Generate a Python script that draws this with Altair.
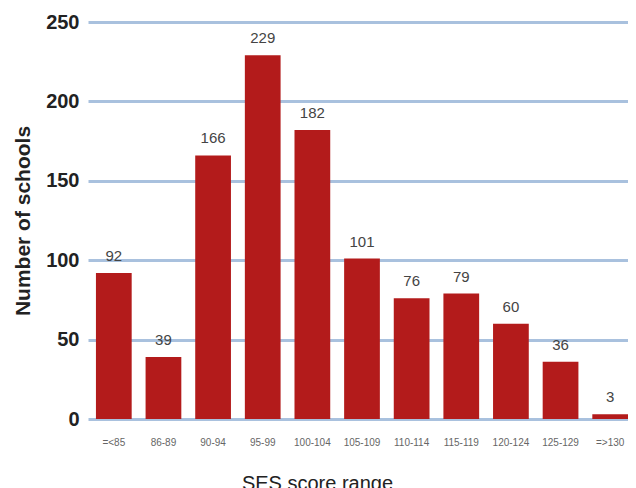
import altair as alt
import pandas as pd

categories = ["=<85", "86-89", "90-94", "95-99", "100-104", "105-109", "110-114",
              "115-119", "120-124", "125-129", "=>130"]
counts = [92, 39, 166, 229, 182, 101, 76, 79, 60, 36, 3]

df = pd.DataFrame({"range": categories, "count": counts})

font = "Liberation Sans"

base = alt.Chart(df).encode(
    x=alt.X("range:N", sort=categories, title="SES score range",
            scale=alt.Scale(paddingInner=0.28, paddingOuter=0.16),
            axis=alt.Axis(labelAngle=0, labelFontSize=10, labelColor="#666666",
                          labelPadding=18, ticks=False, domain=False,
                          titleFontSize=20, titleFontWeight="normal", titleColor="#222222",
                          titleX=229, titleY=70, titleBaseline="alphabetic",
                          titleAlign="center",
                          labelFont=font, titleFont=font)),
    y=alt.Y("count:Q", title="Number of schools",
            scale=alt.Scale(domain=[0, 250], nice=False),
            axis=alt.Axis(values=[0, 50, 100, 150, 200, 250], ticks=False, domain=False,
                          labelFontSize=20, labelFontWeight="bold", labelColor="#222222",
                          labelPadding=9, gridColor="#a9c1de", gridWidth=3,
                          titleFontSize=21, titleFontWeight="bold", titleColor="#222222",
                          titlePadding=12, labelFont=font, titleFont=font)),
)

bars = base.mark_bar(color="#b31b1b")
labels = base.mark_text(dy=-12, baseline="alphabetic", fontSize=15, color="#444444",
                        font=font).encode(text="count:Q")

chart = (bars + labels).properties(
    width=548, height=397,
    autosize=alt.AutoSizeParams(type="none"),
    padding={"left": 80, "top": 14, "right": -8, "bottom": 76},
).configure_view(stroke=None)

chart.save("out.html", embed_options={"renderer": "svg", "actions": False})
